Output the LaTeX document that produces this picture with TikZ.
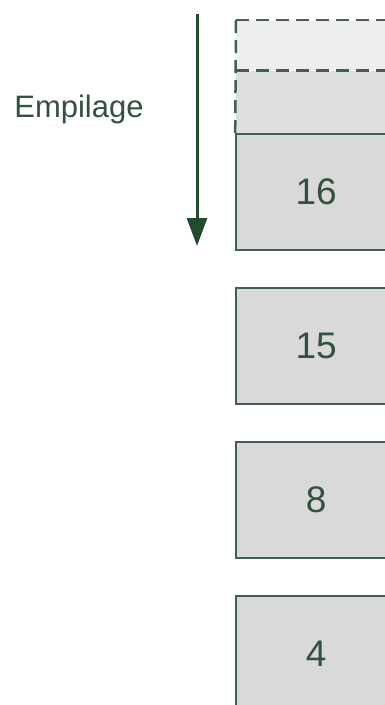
\documentclass[tikz,border=0pt]{standalone}
\usepackage{fontspec}
\setmainfont{Liberation Sans}
\usetikzlibrary{positioning, arrows.meta}

\definecolor{vertfonce}{HTML}{1F4D2E}
\definecolor{bordpile}{HTML}{445F4F}
\definecolor{textepile}{HTML}{34503F}
\definecolor{fondpile}{HTML}{D9D9D9}
\definecolor{fondvide}{HTML}{EEEEEE}
\definecolor{fondprochain}{HTML}{DFDFDF}

\begin{document}
\begin{tikzpicture}[
            x=1pt, y=-1pt,
            node distance=36pt,
            every node/.style={text=textepile},
            % Styles des blocs de la pile
            element/.style={rectangle, minimum width=160pt, minimum height=116pt, inner sep=0pt, draw=bordpile, line width=2pt, fill=fondpile, font=\fontsize{37}{42}\selectfont},
            zone/.style={rectangle, minimum width=160pt, inner sep=0pt},
            pointille/.style={draw=bordpile, line width=2.5pt, dash pattern=on 13pt off 7pt},
            fleche/.style={draw=vertfonce, line width=3pt, -{Triangle[length=28pt, width=20pt]}}
        ]

            \clip (0,0) rectangle (385,705);
            \fill[white] (0,0) rectangle (385,705);

            % Zones libres en haut de la pile
            \node (vide) [zone, fill=fondvide, minimum height=50pt, anchor=north west] at (236,20) {};
            \node (prochain) [zone, fill=fondprochain, minimum height=62pt, below=0pt of vide] {};

            % Elements de la pile
            \node (e16) [element, below=0pt of prochain] {16};
            \node (e15) [element, below=of e16] {15};
            \node (e8) [element, below=of e15] {8};
            \node (e4) [element, below=of e8] {4};

            % Bords en pointilles
            \draw [pointille] (vide.north west) -- (vide.north east);
            \draw [pointille] (prochain.north west) -- (prochain.north east);
            \draw [pointille] (vide.north west) -- (e16.north west);

            % Sens d'empilage
            \coordinate (haut) at (197,14);
            \coordinate (bas) at (197,246);
            \draw [fleche] (haut) -- (bas);
            \node (empilage) at (79,109) [font=\fontsize{31}{36}\selectfont] {Empilage};

        \end{tikzpicture}
\end{document}
